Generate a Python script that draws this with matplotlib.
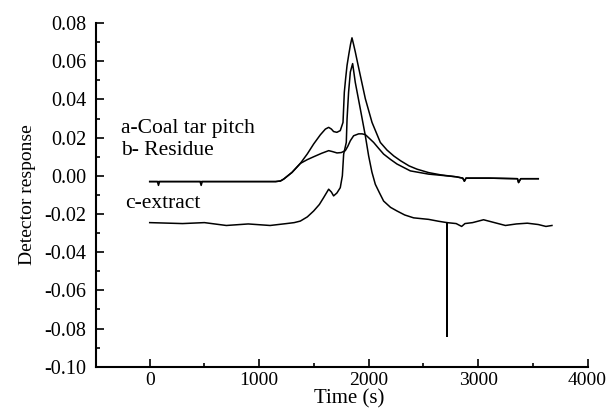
import numpy as np
import matplotlib.pyplot as plt
from matplotlib.ticker import MultipleLocator

plt.rcParams['font.family'] = ['Liberation Serif', 'DejaVu Serif']

# a - coal tar pitch
t_a = [0, 70, 80, 90, 400, 460, 470, 480, 900, 1150, 1194, 1224, 1300, 1376, 1440,
       1498, 1559, 1605, 1635, 1660, 1680, 1710, 1741, 1766, 1778, 1790, 1803,
       1820, 1835, 1848, 1862, 1878, 1900, 1924, 1970, 2031, 2107, 2168, 2230,
       2292, 2370, 2442, 2548, 2660, 2800, 2860, 2875, 2890, 3100, 3360, 3370,
       3390, 3550]
y_a = [-0.003, -0.003, -0.005, -0.003, -0.003, -0.003, -0.005, -0.003, -0.003, -0.003,
       -0.0027, -0.0017, 0.0018, 0.0065, 0.0115, 0.0167, 0.0215, 0.0245, 0.0254, 0.0245,
       0.0232, 0.0228, 0.0237, 0.028, 0.0438, 0.051, 0.0579, 0.064, 0.069, 0.0723,
       0.069, 0.065, 0.059, 0.0526, 0.0404, 0.028, 0.0175, 0.0135, 0.0104, 0.0079,
       0.0052, 0.0035, 0.0017, 0.0005, -0.0005, -0.0012, -0.0028, -0.0012, -0.0012,
       -0.0015, -0.0035, -0.0015, -0.0015]

# b - residue
t_b = [0, 900, 1150, 1194, 1224, 1300, 1376, 1440, 1498, 1570, 1635, 1670, 1711,
       1750, 1787, 1810, 1833, 1863, 1909, 1940, 1970, 2000, 2046, 2090, 2137,
       2200, 2259, 2381, 2548, 2660, 2800, 2860, 2875, 2890, 3100, 3360, 3370,
       3390, 3550]
y_b = [-0.003, -0.003, -0.003, -0.0027, -0.0017, 0.0018, 0.0065, 0.0085, 0.010, 0.0118,
       0.0132, 0.0127, 0.012, 0.0122, 0.0132, 0.0155, 0.0184, 0.021, 0.022, 0.022,
       0.0216, 0.020, 0.0175, 0.0145, 0.0114, 0.0086, 0.0062, 0.0026, 0.0009, 0.0003,
       -0.0005, -0.0012, -0.0028, -0.0012, -0.0012, -0.0015, -0.0035, -0.0015, -0.0015]

# c - extract
t_c = [0, 300, 500, 700, 900, 1100, 1250, 1320, 1376, 1440, 1498, 1550, 1589,
       1635, 1660, 1680, 1710, 1741, 1760, 1772, 1796, 1803, 1817, 1833, 1854,
       1878, 1924, 1970, 2000, 2030, 2061, 2100, 2137, 2200, 2259, 2330, 2411,
       2548, 2640, 2716, 2716, 2716, 2800, 2850, 2880, 2950, 3050, 3150, 3250,
       3350, 3450, 3550, 3620, 3675]
y_c = [-0.0245, -0.025, -0.0245, -0.026, -0.0252, -0.026, -0.025, -0.0245, -0.0237, -0.0215,
       -0.0184, -0.015, -0.0114, -0.007, -0.0085, -0.0105, -0.009, -0.0062, 0.0, 0.0114,
       0.0175, 0.0298, 0.0438, 0.0544, 0.0588, 0.049, 0.0351, 0.021, 0.0105, 0.002,
       -0.0044, -0.009, -0.0132, -0.0165, -0.0184, -0.0205, -0.022, -0.0228, -0.0238,
       -0.0245, -0.084, -0.0245, -0.025, -0.0265, -0.025, -0.0245, -0.023, -0.0245,
       -0.026, -0.0252, -0.0248, -0.0255, -0.0265, -0.026]

fig = plt.figure(figsize=(6.12, 4.13), dpi=100)
ax = fig.add_axes([0.157, 0.112, 0.803, 0.832])

for t, y in [(t_a, y_a), (t_b, y_b), (t_c, y_c)]:
    ax.plot(t, y, color='black', lw=1.1)

ax.text(-262, 0.0225, 'a-Coal tar pitch', fontsize=15.5)
ax.text(-262, 0.0108, 'b- Residue', fontsize=15.5)
ax.text(-225, -0.0167, 'c-extract', fontsize=15.5)

ax.set_xlim(-490, 4000)
ax.set_ylim(-0.10, 0.08)
ax.xaxis.set_major_locator(MultipleLocator(1000))
ax.xaxis.set_minor_locator(MultipleLocator(500))
ax.yaxis.set_major_locator(MultipleLocator(0.02))
ax.yaxis.set_minor_locator(MultipleLocator(0.01))
ax.yaxis.set_major_formatter(plt.FuncFormatter(lambda v, p: '%.2f' % (0 if abs(v) < 1e-9 else v)))
ax.tick_params(direction='in', which='both', labelsize=14.5, width=1.2)
ax.tick_params(which='major', length=6)
ax.tick_params(which='minor', length=3)
ax.tick_params(axis='y', pad=7)
ax.tick_params(axis='x', labelsize=14, pad=4)
ax.spines['top'].set_visible(False)
ax.spines['right'].set_visible(False)
ax.spines['left'].set_linewidth(1.5)
ax.spines['bottom'].set_linewidth(1.5)
ax.set_xlabel('Time (s)', fontsize=15)
ax.xaxis.set_label_coords(0.515, -0.066)
ax.set_ylabel('Detector response', fontsize=14, labelpad=6)

fig.savefig('out.png', dpi=100)
